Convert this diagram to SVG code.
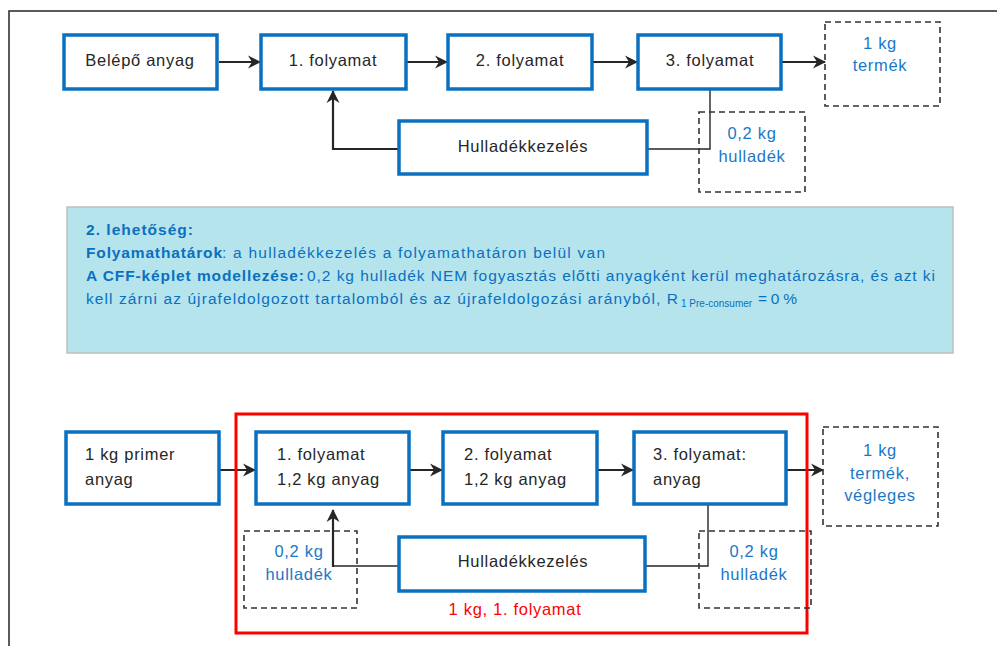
<svg xmlns="http://www.w3.org/2000/svg" width="997" height="646" viewBox="0 0 997 646">
  <style>
    .proc { fill: #ffffff; stroke: #0A70C0; stroke-width: 3.5; }
    .dash { fill: none; stroke: #333333; stroke-width: 1.6; stroke-dasharray: 6 4; }
    .lbl { font-family: "Liberation Sans", Arial, sans-serif; font-size: 16.5px; letter-spacing: 0.7px; fill: #262626; }
    .blu { font-family: "Liberation Sans", Arial, sans-serif; font-size: 16.5px; letter-spacing: 0.7px; fill: #1B78C6; }
    .mid { text-anchor: middle; }
    .flow { fill: none; stroke: #262626; stroke-width: 2.2; }
    .thin { fill: none; stroke: #262626; stroke-width: 1.4; }
    .para { font-family: "Liberation Sans", Arial, sans-serif; font-size: 15.5px; fill: #0A70C0; }
    .sub { font-size: 10px; }
    .b { font-weight: bold; }
  </style>
  <defs>
    <marker id="arrow" markerUnits="userSpaceOnUse" markerWidth="14" markerHeight="14" refX="12" refY="7" orient="auto">
      <path d="M0,0.5 L13,7 L0,13.5 L4,7 Z" fill="#262626"/>
    </marker>
  </defs>

  <rect width="997" height="646" fill="#ffffff"/>
  <!-- outer frame -->
  <rect x="9" y="11" width="1010" height="660" fill="none" stroke="#333333" stroke-width="1.6"/>

  <!-- connectors -->
  <g id="connectors">
    <line class="flow" x1="219" y1="62" x2="260" y2="62" marker-end="url(#arrow)"/>
    <line class="flow" x1="406" y1="62" x2="447" y2="62" marker-end="url(#arrow)"/>
    <line class="flow" x1="592" y1="62" x2="637" y2="62" marker-end="url(#arrow)"/>
    <line class="flow" x1="782" y1="62" x2="825" y2="62" marker-end="url(#arrow)"/>
    <polyline class="flow" points="398,149 333,149 333,91" marker-end="url(#arrow)"/>
    <polyline class="thin" points="710,89 710,149 648,149"/>

    <line class="flow" x1="219" y1="470" x2="255" y2="470" marker-end="url(#arrow)"/>
    <line class="flow" x1="409" y1="470" x2="442" y2="470" marker-end="url(#arrow)"/>
    <line class="flow" x1="597" y1="470" x2="633" y2="470" marker-end="url(#arrow)"/>
    <line class="flow" x1="787" y1="470" x2="823" y2="470" marker-end="url(#arrow)"/>
    <polyline class="thin" points="398,566 333,566"/>
    <line class="flow" x1="333" y1="567" x2="333" y2="510" marker-end="url(#arrow)"/>
    <polyline class="thin" points="708,504 708,566 646,566"/>
  </g>

  <!-- upper scheme -->
  <g id="n-belepo">
    <rect class="proc" x="64" y="35" width="153" height="54"/>
    <text class="lbl mid" x="140" y="66">Belépő anyag</text>
  </g>
  <g id="n-f1">
    <rect class="proc" x="261" y="35" width="145" height="54"/>
    <text class="lbl mid" x="333" y="66">1. folyamat</text>
  </g>
  <g id="n-f2">
    <rect class="proc" x="448" y="35" width="144" height="54"/>
    <text class="lbl mid" x="520" y="66">2. folyamat</text>
  </g>
  <g id="n-f3">
    <rect class="proc" x="638" y="35" width="143" height="54"/>
    <text class="lbl mid" x="710" y="66">3. folyamat</text>
  </g>
  <g id="n-termek">
    <rect class="dash" x="825" y="22" width="115" height="84"/>
    <text class="blu mid" x="880" y="49">1 kg</text>
    <text class="blu mid" x="880" y="71">termék</text>
  </g>
  <g id="n-hulladekkezeles">
    <rect class="proc" x="399" y="121" width="248" height="53"/>
    <text class="lbl mid" x="523" y="152">Hulladékkezelés</text>
  </g>
  <g id="n-hulladek">
    <rect class="dash" x="699" y="112" width="106" height="80"/>
    <text class="blu mid" x="752" y="139">0,2 kg</text>
    <text class="blu mid" x="752" y="162">hulladék</text>
  </g>

  <!-- note -->
  <g id="n-note">
    <rect x="67" y="207" width="886" height="146" fill="#B6E4ED" stroke="#BFBFBF" stroke-width="1.5"/>
    <text class="para b" x="86" y="235" textLength="107" lengthAdjust="spacing">2. lehetőség:</text>
    <text class="para b" x="86" y="258" textLength="136" lengthAdjust="spacing">Folyamathatárok</text>
    <text class="para" x="222" y="258" textLength="383" lengthAdjust="spacing">: a hulladékkezelés a folyamathatáron belül van</text>
    <text class="para b" x="86" y="281" textLength="218" lengthAdjust="spacing">A CFF-képlet modellezése:</text>
    <text class="para" x="307" y="281" textLength="628" lengthAdjust="spacing">0,2 kg hulladék NEM fogyasztás előtti anyagként kerül meghatározásra, és azt ki</text>
    <text class="para" x="86" y="304" textLength="592" lengthAdjust="spacing">kell zárni az újrafeldolgozott tartalomból és az újrafeldolgozási arányból, R</text>
    <text class="para sub" x="681" y="307">1 Pre-consumer</text>
    <text class="para" x="758" y="304" textLength="39" lengthAdjust="spacing">= 0 %</text>
  </g>

  <!-- lower scheme -->
  <g id="n-boundary">
    <rect x="236" y="414" width="571" height="219" fill="none" stroke="#FF0000" stroke-width="3"/>
    <text x="515" y="615" text-anchor="middle" font-family="Liberation Sans, Arial, sans-serif" font-size="16.5" letter-spacing="0.7" fill="#FF0000">1 kg, 1. folyamat</text>
  </g>
  <g id="n-primer">
    <rect class="proc" x="66" y="432" width="153" height="72"/>
    <text class="lbl" x="85" y="460">1 kg primer</text>
    <text class="lbl" x="85" y="485">anyag</text>
  </g>
  <g id="n-f1b">
    <rect class="proc" x="256" y="432" width="153" height="72"/>
    <text class="lbl" x="277" y="460">1. folyamat</text>
    <text class="lbl" x="277" y="485">1,2 kg anyag</text>
  </g>
  <g id="n-f2b">
    <rect class="proc" x="443" y="432" width="154" height="72"/>
    <text class="lbl" x="464" y="460">2. folyamat</text>
    <text class="lbl" x="464" y="485">1,2 kg anyag</text>
  </g>
  <g id="n-f3b">
    <rect class="proc" x="634" y="432" width="152" height="72"/>
    <text class="lbl" x="653" y="460">3. folyamat:</text>
    <text class="lbl" x="653" y="485">anyag</text>
  </g>
  <g id="n-termekb">
    <rect class="dash" x="823" y="427" width="115" height="99"/>
    <text class="blu mid" x="880" y="456">1 kg</text>
    <text class="blu mid" x="880" y="479">termék,</text>
    <text class="blu mid" x="880" y="501">végleges</text>
  </g>
  <g id="n-hulladekkezelesb">
    <rect class="proc" x="399" y="537" width="246" height="54"/>
    <text class="lbl mid" x="523" y="567">Hulladékkezelés</text>
  </g>
  <g id="n-hulladek-bal">
    <rect class="dash" x="244" y="531" width="113" height="77"/>
    <text class="blu mid" x="299" y="557">0,2 kg</text>
    <text class="blu mid" x="299" y="580">hulladék</text>
  </g>
  <g id="n-hulladek-jobb">
    <rect class="dash" x="699" y="531" width="112" height="77"/>
    <text class="blu mid" x="754" y="557">0,2 kg</text>
    <text class="blu mid" x="754" y="580">hulladék</text>
  </g>
</svg>
